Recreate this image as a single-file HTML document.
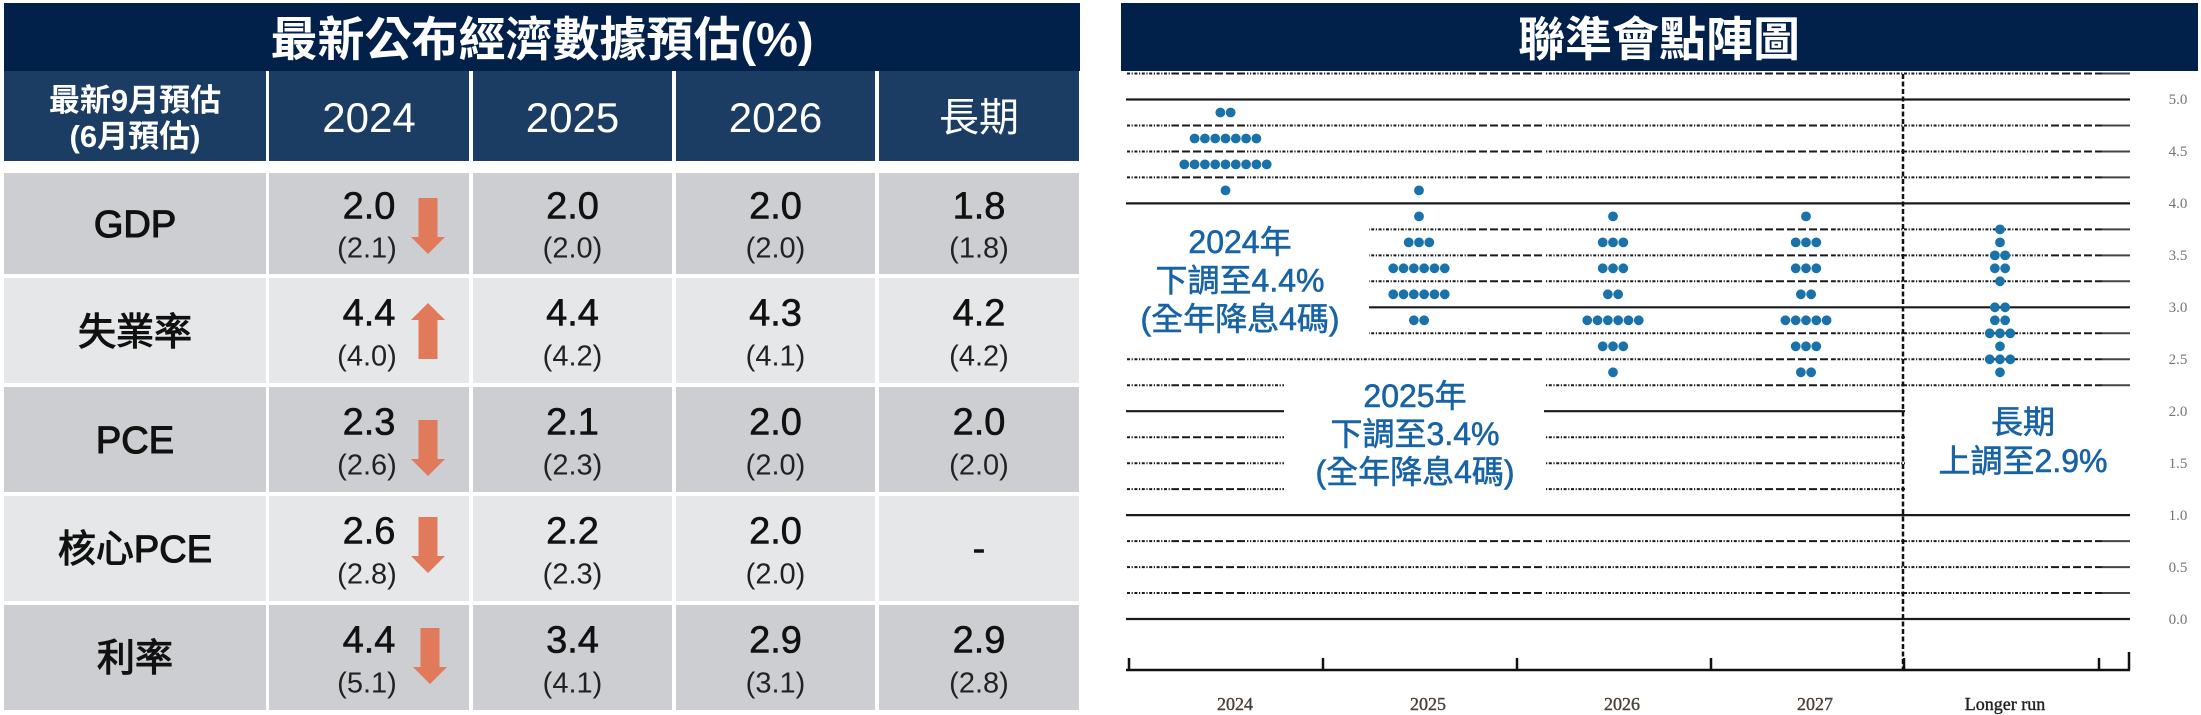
<!DOCTYPE html>
<html>
<head>
<meta charset="utf-8">
<style>
html,body{margin:0;padding:0;background:#fff;width:2201px;height:715px;overflow:hidden;}
svg{display:block}
</style>
</head>
<body>
<svg width="2201" height="715" viewBox="0 0 2201 715" xmlns="http://www.w3.org/2000/svg" font-family="'Liberation Sans','Noto Sans CJK TC',sans-serif">
<defs>
  <g id="d1"><circle cx="0" cy="0" r="4.9"/></g>
  <g id="d2"><circle cx="-5.15" cy="0" r="4.9"/><circle cx="5.15" cy="0" r="4.9"/></g>
  <g id="d3"><circle cx="-10.3" cy="0" r="4.9"/><circle cx="0" cy="0" r="4.9"/><circle cx="10.3" cy="0" r="4.9"/></g>
  <g id="d5"><circle cx="-20.6" cy="0" r="4.9"/><circle cx="-10.3" cy="0" r="4.9"/><circle cx="0" cy="0" r="4.9"/><circle cx="10.3" cy="0" r="4.9"/><circle cx="20.6" cy="0" r="4.9"/></g>
  <g id="d6"><circle cx="-25.75" cy="0" r="4.9"/><circle cx="-15.45" cy="0" r="4.9"/><circle cx="-5.15" cy="0" r="4.9"/><circle cx="5.15" cy="0" r="4.9"/><circle cx="15.45" cy="0" r="4.9"/><circle cx="25.75" cy="0" r="4.9"/></g>
  <g id="d7"><circle cx="-30.9" cy="0" r="4.9"/><circle cx="-20.6" cy="0" r="4.9"/><circle cx="-10.3" cy="0" r="4.9"/><circle cx="0" cy="0" r="4.9"/><circle cx="10.3" cy="0" r="4.9"/><circle cx="20.6" cy="0" r="4.9"/><circle cx="30.9" cy="0" r="4.9"/></g>
  <g id="d9"><circle cx="-41.2" cy="0" r="4.9"/><circle cx="-30.9" cy="0" r="4.9"/><circle cx="-20.6" cy="0" r="4.9"/><circle cx="-10.3" cy="0" r="4.9"/><circle cx="0" cy="0" r="4.9"/><circle cx="10.3" cy="0" r="4.9"/><circle cx="20.6" cy="0" r="4.9"/><circle cx="30.9" cy="0" r="4.9"/><circle cx="41.2" cy="0" r="4.9"/></g>
  <clipPath id="cdd">
    <rect x="1120" y="0" width="52" height="715"/>
    <rect x="1247" y="0" width="221" height="715"/>
    <rect x="1545" y="0" width="212" height="715"/>
    <rect x="1835" y="0" width="212" height="715"/>
  </clipPath>
  <clipPath id="cld">
    <rect x="1172" y="0" width="75" height="715"/>
    <rect x="1468" y="0" width="77" height="715"/>
    <rect x="1757" y="0" width="78" height="715"/>
    <rect x="2047" y="0" width="55" height="715"/>
  </clipPath>
</defs>

<!-- ================= LEFT TABLE ================= -->
<rect x="4" y="3" width="1076" height="68" fill="#01214a"/>
<text x="542" y="56" font-size="47" font-weight="bold" fill="#fff" text-anchor="middle">最新公布經濟數據預估(%)</text>

<g fill="#1c3d63">
  <rect x="4" y="71" width="262" height="90"/>
  <rect x="269" y="71" width="200" height="90"/>
  <rect x="473" y="71" width="199" height="90"/>
  <rect x="676" y="71" width="199" height="90"/>
  <rect x="879" y="71" width="200" height="90"/>
</g>
<g fill="#fff" text-anchor="middle">
  <text x="135" y="111" font-size="31" font-weight="bold">最新9月預估</text>
  <text x="135" y="147" font-size="31" font-weight="bold">(6月預估)</text>
  <text x="369" y="132" font-size="42">2024</text>
  <text x="572.5" y="132" font-size="42">2025</text>
  <text x="775.5" y="132" font-size="42">2026</text>
  <text x="979" y="131" font-size="40">長期</text>
</g>

<!-- rows backgrounds -->
<g fill="#cdced2">
  <rect x="4" y="173" width="262" height="101"/><rect x="269" y="173" width="200" height="101"/><rect x="473" y="173" width="199" height="101"/><rect x="676" y="173" width="199" height="101"/><rect x="879" y="173" width="200" height="101"/>
  <rect x="4" y="387" width="262" height="105"/><rect x="269" y="387" width="200" height="105"/><rect x="473" y="387" width="199" height="105"/><rect x="676" y="387" width="199" height="105"/><rect x="879" y="387" width="200" height="105"/>
  <rect x="4" y="605" width="262" height="105"/><rect x="269" y="605" width="200" height="105"/><rect x="473" y="605" width="199" height="105"/><rect x="676" y="605" width="199" height="105"/><rect x="879" y="605" width="200" height="105"/>
</g>
<g fill="#e6e7e9">
  <rect x="4" y="278" width="262" height="105"/><rect x="269" y="278" width="200" height="105"/><rect x="473" y="278" width="199" height="105"/><rect x="676" y="278" width="199" height="105"/><rect x="879" y="278" width="200" height="105"/>
  <rect x="4" y="496" width="262" height="105"/><rect x="269" y="496" width="200" height="105"/><rect x="473" y="496" width="199" height="105"/><rect x="676" y="496" width="199" height="105"/><rect x="879" y="496" width="200" height="105"/>
</g>

<!-- row labels -->
<g fill="#111" stroke="#111" stroke-width="1.1" font-size="38" text-anchor="middle">
  <text x="135" y="237">GDP</text>
  <text x="135" y="345">失業率</text>
  <text x="135" y="453">PCE</text>
  <text x="135" y="562">核心PCE</text>
  <text x="135" y="671">利率</text>
</g>

<!-- values -->
<g fill="#111" stroke="#111" stroke-width="0.6" font-size="38" text-anchor="middle">
  <text x="369" y="218.5">2.0</text><text x="572.5" y="218.5">2.0</text><text x="775.5" y="218.5">2.0</text><text x="979" y="218.5">1.8</text>
  <text x="369" y="325.3">4.4</text><text x="572.5" y="325.3">4.4</text><text x="775.5" y="325.3">4.3</text><text x="979" y="325.3">4.2</text>
  <text x="369" y="434.3">2.3</text><text x="572.5" y="434.3">2.1</text><text x="775.5" y="434.3">2.0</text><text x="979" y="434.3">2.0</text>
  <text x="369" y="543.3">2.6</text><text x="572.5" y="543.3">2.2</text><text x="775.5" y="543.3">2.0</text><text x="979" y="561">-</text>
  <text x="369" y="652.3">4.4</text><text x="572.5" y="652.3">3.4</text><text x="775.5" y="652.3">2.9</text><text x="979" y="652.3">2.9</text>
</g>
<g fill="#222" font-size="29" text-anchor="middle">
  <text x="367" y="257.3">(2.1)</text><text x="572.5" y="257.3">(2.0)</text><text x="775.5" y="257.3">(2.0)</text><text x="979" y="257.3">(1.8)</text>
  <text x="367" y="365.7">(4.0)</text><text x="572.5" y="365.7">(4.2)</text><text x="775.5" y="365.7">(4.1)</text><text x="979" y="365.7">(4.2)</text>
  <text x="367" y="474.7">(2.6)</text><text x="572.5" y="474.7">(2.3)</text><text x="775.5" y="474.7">(2.0)</text><text x="979" y="474.7">(2.0)</text>
  <text x="367" y="583.7">(2.8)</text><text x="572.5" y="583.7">(2.3)</text><text x="775.5" y="583.7">(2.0)</text>
  <text x="367" y="692.7">(5.1)</text><text x="572.5" y="692.7">(4.1)</text><text x="775.5" y="692.7">(3.1)</text><text x="979" y="692.7">(2.8)</text>
</g>

<!-- arrows -->
<g fill="#e07a5b">
  <polygon points="418.5,198 437.5,198 437.5,237 445,237 428,254 411,237 418.5,237"/>
  <polygon points="428,303 445,320 437.5,320 437.5,359 418.5,359 418.5,320 411,320"/>
  <polygon points="418.5,420 437.5,420 437.5,459 445,459 428,476 411,459 418.5,459"/>
  <polygon points="418.5,517 437.5,517 437.5,556 445,556 428,573 411,556 418.5,556"/>
  <polygon points="420.5,628 439.5,628 439.5,667 447,667 430,684 413,667 420.5,667"/>
</g>

<!-- ================= RIGHT DOT PLOT ================= -->
<rect x="1121" y="3" width="1077" height="68" fill="#01214a"/>
<text x="1659" y="56" font-size="47" font-weight="bold" fill="#fff" text-anchor="middle">聯準會點陣圖</text>

<!-- solid integer gridlines -->
<path d="M1126 99.5H2130M1126 203.4H2130M1126 307.3H2130M1126 411.2H2130M1126 515.1H2130M1126 619H2130" stroke="#1a1a1a" stroke-width="2.2" fill="none"/>

<!-- dashed quarter gridlines: dot-dash regions -->
<path clip-path="url(#cdd)" d="M1127 73.5H2102M1127 125.5H2102M1127 151.5H2102M1127 177.4H2102M1127 229.4H2102M1127 255.4H2102M1127 281.3H2102M1127 333.3H2102M1127 359.3H2102M1127 385.2H2102M1127 437.2H2102M1127 463.2H2102M1127 489.1H2102M1127 541.1H2102M1127 567.1H2102M1127 593H2102" stroke="#1a1a1a" stroke-width="2" stroke-dasharray="3 1.6 1.2 1.6" fill="none"/>
<!-- dashed quarter gridlines: long-dash regions -->
<path clip-path="url(#cld)" d="M1127 73.5H2102M1127 125.5H2102M1127 151.5H2102M1127 177.4H2102M1127 229.4H2102M1127 255.4H2102M1127 281.3H2102M1127 333.3H2102M1127 359.3H2102M1127 385.2H2102M1127 437.2H2102M1127 463.2H2102M1127 489.1H2102M1127 541.1H2102M1127 567.1H2102M1127 593H2102" stroke="#1a1a1a" stroke-width="2" stroke-dasharray="8 3" fill="none"/>
<!-- solid end segments -->
<path d="M2102 73.5H2130M2102 125.5H2130M2102 151.5H2130M2102 177.4H2130M2102 229.4H2130M2102 255.4H2130M2102 281.3H2130M2102 333.3H2130M2102 359.3H2130M2102 385.2H2130M2102 437.2H2130M2102 463.2H2130M2102 489.1H2130M2102 541.1H2130M2102 567.1H2130M2102 593H2130" stroke="#444" stroke-width="2" fill="none"/>

<!-- white annotation backgrounds -->
<g fill="#fff">
  <rect x="1122" y="214" width="247" height="132"/>
  <rect x="1284" y="374" width="260" height="126"/>
  <rect x="1905" y="398" width="228" height="102"/>
</g>

<!-- vertical dashed separator -->
<line x1="1903" y1="74" x2="1903" y2="670" stroke="#111" stroke-width="2.5" stroke-dasharray="5 2.5"/>

<!-- x axis -->
<path d="M1126 670H2130" stroke="#111" stroke-width="2.5" fill="none"/>
<path d="M1129 658V670M1323 658V670M1517 658V670M1711 658V670M1904 658V670M2099 658V670M2129 652V670" stroke="#111" stroke-width="2.5" fill="none"/>

<!-- dots -->
<g fill="#1a72aa">
  <use href="#d2" x="1225.5" y="112.5"/>
  <use href="#d7" x="1225.5" y="138.5"/>
  <use href="#d9" x="1225.5" y="164.4"/>
  <use href="#d1" x="1225.5" y="190.4"/>
  <use href="#d1" x="1419" y="190.4"/>
  <use href="#d1" x="1419" y="216.4"/>
  <use href="#d3" x="1419" y="242.4"/>
  <use href="#d6" x="1419" y="268.3"/>
  <use href="#d6" x="1419" y="294.3"/>
  <use href="#d2" x="1419" y="320.3"/>
  <use href="#d1" x="1613" y="216.4"/>
  <use href="#d3" x="1613" y="242.4"/>
  <use href="#d3" x="1613" y="268.3"/>
  <use href="#d2" x="1613" y="294.3"/>
  <use href="#d6" x="1613" y="320.3"/>
  <use href="#d3" x="1613" y="346.3"/>
  <use href="#d1" x="1613" y="372.3"/>
  <use href="#d1" x="1806" y="216.4"/>
  <use href="#d3" x="1806" y="242.4"/>
  <use href="#d3" x="1806" y="268.3"/>
  <use href="#d2" x="1806" y="294.3"/>
  <use href="#d5" x="1806" y="320.3"/>
  <use href="#d3" x="1806" y="346.3"/>
  <use href="#d2" x="1806" y="372.3"/>
  <use href="#d1" x="2000" y="229.4"/>
  <use href="#d1" x="2000" y="242.4"/>
  <use href="#d2" x="2000" y="255.4"/>
  <use href="#d2" x="2000" y="268.3"/>
  <use href="#d1" x="2000" y="281.3"/>
  <use href="#d2" x="2000" y="307.3"/>
  <use href="#d2" x="2000" y="320.3"/>
  <use href="#d3" x="2000" y="333.3"/>
  <use href="#d1" x="2000" y="346.3"/>
  <use href="#d3" x="2000" y="359.3"/>
  <use href="#d1" x="2000" y="372.3"/>
</g>

<!-- annotations -->
<g fill="#1763a6" stroke="#1763a6" stroke-width="0.6" font-size="32" text-anchor="middle">
  <text x="1240" y="253">2024年</text>
  <text x="1240" y="291.5">下調至4.4%</text>
  <text x="1240" y="330">(全年降息4碼)</text>
  <text x="1415" y="407">2025年</text>
  <text x="1415" y="445">下調至3.4%</text>
  <text x="1415" y="483">(全年降息4碼)</text>
  <text x="2023" y="433">長期</text>
  <text x="2023" y="472">上調至2.9%</text>
</g>

<!-- y axis labels -->
<g fill="#7a7270" font-size="15" font-family="'Liberation Serif',serif" text-anchor="middle">
  <text x="2178" y="104">5.0</text>
  <text x="2178" y="156">4.5</text>
  <text x="2178" y="208">4.0</text>
  <text x="2178" y="260">3.5</text>
  <text x="2178" y="312">3.0</text>
  <text x="2178" y="364">2.5</text>
  <text x="2178" y="416">2.0</text>
  <text x="2178" y="468">1.5</text>
  <text x="2178" y="520">1.0</text>
  <text x="2178" y="572">0.5</text>
  <text x="2178" y="624">0.0</text>
</g>

<!-- x axis labels -->
<g fill="#4a4038" stroke="#4a4038" stroke-width="0.4" font-size="18" font-family="'Liberation Serif',serif" text-anchor="middle">
  <text x="1235" y="710">2024</text>
  <text x="1428" y="710">2025</text>
  <text x="1622" y="710">2026</text>
  <text x="1815" y="710">2027</text>
  <text x="2005" y="710" fill="#222" stroke="#222">Longer run</text>
</g>
</svg>
</body>
</html>
